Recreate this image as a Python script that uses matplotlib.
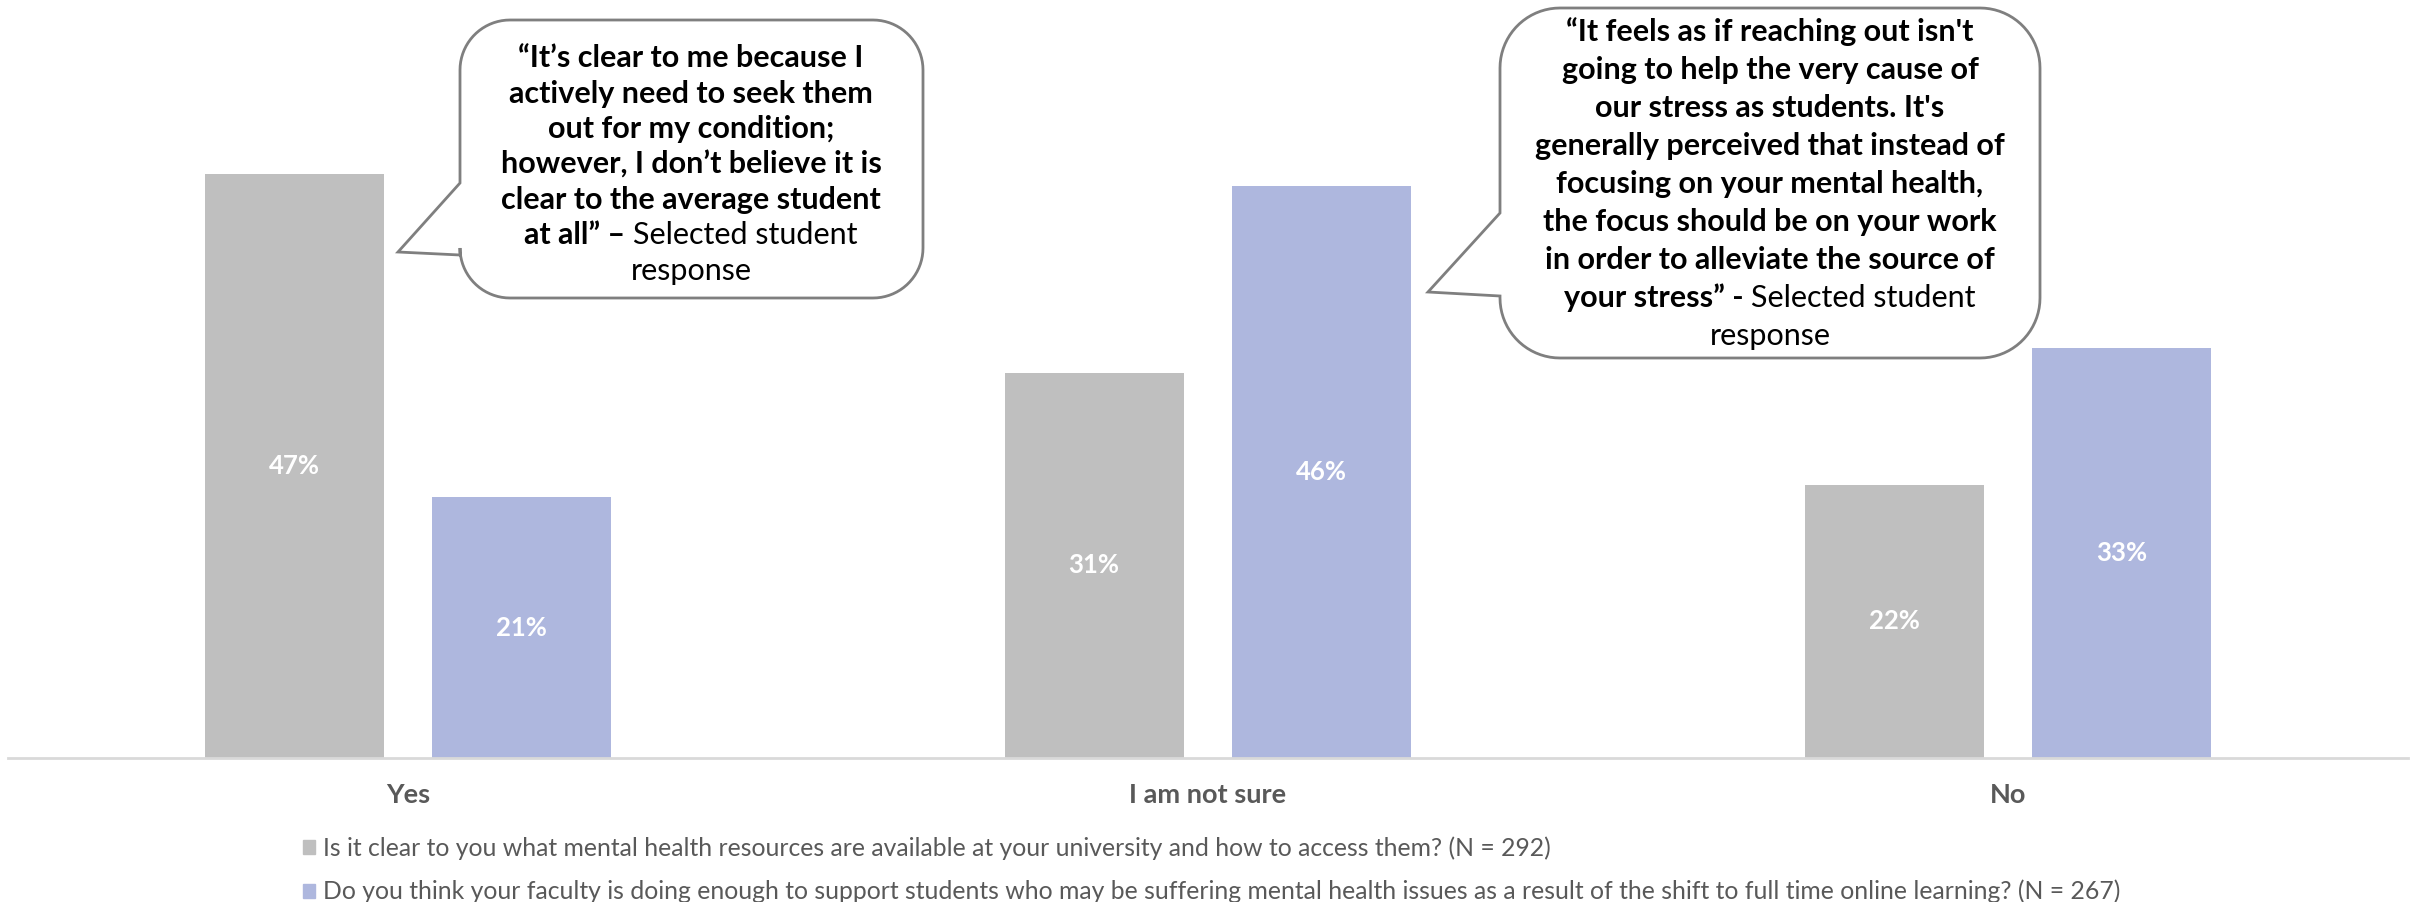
import matplotlib
matplotlib.use("Agg")
import matplotlib.pyplot as plt
from matplotlib.patches import Polygon, Patch
import numpy as np

plt.rcParams['font.family'] = ['Lato', 'DejaVu Sans']

# data
categories = ['Yes', 'I am not sure', 'No']
clear_resources = [47, 31, 22]   # N = 292
faculty_support = [21, 46, 33]   # N = 267
series_labels = [
    'Is it clear to you what mental health resources are available at your university and how to access them? (N = 292)',
    'Do you think your faculty is doing enough to support students who may be suffering mental health issues as a result of the shift to full time online learning? (N = 267)',
]
quote_1 = [
    [('\u201cIt\u2019s clear to me because I', 'bold')],
    [('actively need to seek them', 'bold')],
    [('out for my condition;', 'bold')],
    [('however, I don\u2019t believe it is', 'bold')],
    [('clear to the average student', 'bold')],
    [('at all\u201d \u2013', 'bold'), ('Selected student', 'normal')],
    [('response', 'normal')],
]
quote_2 = [
    [('\u201cIt feels as if reaching out isn\'t', 'bold')],
    [('going to help the very cause of', 'bold')],
    [('our stress as students. It\'s', 'bold')],
    [('generally perceived that instead of', 'bold')],
    [('focusing on your mental health,', 'bold')],
    [('the focus should be on your work', 'bold')],
    [('in order to alleviate the source of', 'bold')],
    [('your stress\u201d -', 'bold'), ('Selected student', 'normal')],
    [('response', 'normal')],
]

GRAY = '#bfbfbf'
BLUE = '#aeb7de'
TXT = '#595959'
W, H = 2420, 902

fig = plt.figure(figsize=(W / 100, H / 100), dpi=100)
ax = fig.add_axes([8 / W, 144 / H, 2400 / W, 758 / H])

x = np.arange(len(categories))
bw = 0.2236
b1 = ax.bar(x - 0.1424, clear_resources, bw, color=GRAY)
b2 = ax.bar(x + 0.1424, faculty_support, bw, color=BLUE)
for b in (b1, b2):
    ax.bar_label(b, labels=[f'{v}%' for v in b.datavalues], label_type='center',
                 color='white', fontsize=18.5, fontweight='bold')

ax.set_xlim(-0.5, 2.5)
ax.set_ylim(0, 61)
ax.set_yticks([])
ax.set_xticks(x)
ax.set_xticklabels(categories, fontsize=19.5, fontweight='bold', color=TXT)
ax.tick_params(axis='x', length=0, pad=18)
for s in ['top', 'left', 'right']:
    ax.spines[s].set_visible(False)
ax.spines['bottom'].set_color('#d9d9d9')
ax.spines['bottom'].set_linewidth(2)

handles = [Patch(color=GRAY), Patch(color=BLUE)]
fig.legend(handles, series_labels, loc='upper left', bbox_to_anchor=(303 / W, 1 - 836 / H),
           frameon=False, fontsize=17.8, labelcolor=TXT, handlelength=0.5, handleheight=0.5,
           handletextpad=0.3, borderpad=0, borderaxespad=0, labelspacing=0.82)


def px(xp, yp):
    return (xp / W, 1 - yp / H)


def bubble(x0, y0, x1, y1, r, tip, base_top, base_bot):
    pts = [(x0, base_bot)]
    def arc(cx, cy, a0, a1):
        for a in np.linspace(np.radians(a0), np.radians(a1), 20):
            pts.append((cx + r * np.cos(a), cy + r * np.sin(a)))
    # y down in pixel space
    arc(x0 + r, y1 - r, 180, 90)
    arc(x1 - r, y1 - r, 90, 0)
    arc(x1 - r, y0 + r, 0, -90)
    arc(x0 + r, y0 + r, -90, -180)
    pts.append((x0, base_top))
    pts.append(tip)
    pts.append((x0, base_bot))
    poly = Polygon([px(a, b) for a, b in pts], closed=True, transform=fig.transFigure,
                   facecolor='white', edgecolor='#7f7f7f', linewidth=2, zorder=5)
    fig.add_artist(poly)


renderer = fig.canvas.get_renderer()


def text_width(s, weight, size):
    t = fig.text(0, 0, s, fontsize=size, fontweight=weight)
    w = t.get_window_extent(renderer).width
    t.remove()
    return w


def quote(lines, cx, y_first, step, size=22):
    space = text_width('a a', 'normal', size) - text_width('aa', 'normal', size)
    for i, segs in enumerate(lines):
        widths = [text_width(s, w, size) for s, w in segs]
        total = sum(widths) + space * (len(segs) - 1)
        xs = cx - total / 2
        yp = y_first + i * step
        for (s, w), wd in zip(segs, widths):
            fig.text(*px(xs, yp), s, fontsize=size, fontweight=w, color='black',
                     ha='left', va='center', zorder=6)
            xs += wd + space


bubble(460, 20, 923, 298, 50, (398, 252), 183, 255)
quote(quote_1, 691, 58, 35.5)
bubble(1500, 8, 2040, 358, 60, (1428, 292), 213, 296)
quote(quote_2, 1770, 32, 38)

fig.savefig('out.png', dpi=100)
